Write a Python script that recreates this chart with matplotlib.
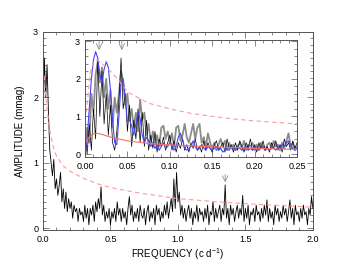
import numpy as np
import matplotlib
matplotlib.use("Agg")
import matplotlib.pyplot as plt
from matplotlib.ticker import MultipleLocator, FormatStrFormatter

plt.rcParams["font.family"] = ["Liberation Sans", "DejaVu Sans"]
plt.rcParams["mathtext.fontset"] = "custom"
plt.rcParams["mathtext.rm"] = "Liberation Sans"
plt.rcParams["mathtext.it"] = "Liberation Sans"

# main amplitude spectrum, 0.00 .. 2.00 c/d in steps of 0.01
main_freq_step = 0.01
main_amp = [
    1.5, 2.6, 2.0, 2.5, 1.8, 1.2, 1.0, 0.8, 1.05, 0.6,
    0.75, 0.5, 0.65, 0.85, 0.4, 0.6, 0.3, 0.55, 0.25, 0.45,
    0.3, 0.4, 0.15, 0.35, 0.25, 0.3, 0.1, 0.3, 0.2, 0.25,
    0.1, 0.35, 0.15, 0.3, 0.05, 0.3, 0.2, 0.35, 0.1, 0.4,
    0.25, 0.45, 0.3, 0.63, 0.2, 0.35, 0.1, 0.25, 0.15, 0.3,
    0.05, 0.25, 0.15, 0.3, 0.1, 0.4, 0.2, 0.3, 0.1, 0.3,
    0.15, 0.25, 0.05, 0.3, 0.48, 0.2, 0.35, 0.1, 0.25, 0.15,
    0.3, 0.1, 0.35, 0.2, 0.15, 0.3, 0.05, 0.25, 0.35, 0.1,
    0.25, 0.15, 0.3, 0.05, 0.35, 0.2, 0.3, 0.1, 0.25, 0.15,
    0.35, 0.2, 0.4, 0.15, 0.3, 0.45, 0.25, 0.75, 0.3, 0.85,
    0.4, 0.55, 0.2, 0.35, 0.15, 0.3, 0.1, 0.25, 0.35, 0.15,
    0.3, 0.05, 0.25, 0.15, 0.35, 0.1, 0.3, 0.2, 0.25, 0.1,
    0.3, 0.15, 0.35, 0.05, 0.25, 0.2, 0.4, 0.1, 0.3, 0.15,
    0.25, 0.35, 0.1, 0.3, 0.2, 0.66, 0.15, 0.3, 0.05, 0.35,
    0.2, 0.3, 0.1, 0.25, 0.35, 0.15, 0.3, 0.2, 0.5, 0.1,
    0.3, 0.15, 0.35, 0.05, 0.25, 0.2, 0.3, 0.1, 0.35, 0.2,
    0.25, 0.1, 0.3, 0.15, 0.35, 0.2, 0.43, 0.1, 0.3, 0.15,
    0.25, 0.05, 0.35, 0.2, 0.3, 0.1, 0.25, 0.15, 0.35, 0.2,
    0.3, 0.1, 0.25, 0.43, 0.15, 0.3, 0.05, 0.35, 0.2, 0.25,
    0.1, 0.3, 0.15, 0.35, 0.2, 0.25, 0.05, 0.3, 0.2, 0.48,
    0.3,
]

# significance level (dashed) over the full range
main_sig_freq = [0, 0.01, 0.025, 0.05, 0.075, 0.1, 0.15, 0.2, 0.3, 0.4, 0.5, 0.7, 1.0, 1.3, 1.6, 2.0]
main_sig_amp = [2.45, 2.3, 1.9, 1.5, 1.25, 1.1, 0.95, 0.87, 0.76, 0.68, 0.62, 0.54, 0.45, 0.4, 0.36, 0.32]

# inset spectra, 0.000 .. 0.250 c/d in steps of 0.0025
inset_freq_step = 0.0025
inset_gray = [
    0.05, 0.7, 0.3, 1.6, 1.1, 2.1, 2.45, 1.9, 2.3, 1.5,
    2.0, 1.2, 1.7, 0.7, 1.5, 1.1, 1.6, 2.2, 1.9, 1.3,
    1.6, 0.9, 1.2, 0.7, 1.1, 0.6, 1.45, 0.9, 1.1, 0.5,
    0.8, 0.3, 0.6, 0.25, 0.5, 0.2, 0.7, 0.75, 0.4, 0.6,
    0.3, 0.55, 0.2, 0.7, 0.75, 0.35, 0.5, 0.8, 0.45, 0.3,
    0.55, 0.8, 0.4, 0.7, 0.8, 0.3, 0.45, 0.2, 0.55, 0.3,
    0.15, 0.3, 0.1, 0.25, 0.4, 0.2, 0.35, 0.1, 0.3, 0.15,
    0.25, 0.1, 0.2, 0.3, 0.15, 0.35, 0.1, 0.25, 0.2, 0.3,
    0.1, 0.25, 0.15, 0.3, 0.2, 0.1, 0.25, 0.3, 0.15, 0.35,
    0.2, 0.25, 0.1, 0.3, 0.15, 0.35, 0.55, 0.2, 0.3, 0.1,
    0.2,
]
inset_black = [
    0.6, 0.0, 0.8, 0.1, 1.2, 0.4, 2.5, 1.0, 2.2, 0.8,
    1.6, 0.5, 1.3, 0.3, 0.1, 0.6, 1.4, 2.55, 1.2, 1.6,
    0.6, 1.3, 0.2, 0.9, 0.4, 1.2, 0.3, 1.1, 0.2, 0.9,
    0.1, 0.5, 0.15, 0.6, 0.05, 0.4, 0.2, 0.45, 0.1, 0.3,
    0.5, 0.1, 0.35, 0.05, 0.3, 0.15, 0.4, 0.1, 0.25, 0.05,
    0.3, 0.15, 0.4, 0.1, 0.2, 0.05, 0.35, 0.1, 0.3, 0.15,
    0.05, 0.25, 0.35, 0.1, 0.2, 0.3, 0.05, 0.4, 0.15, 0.25,
    0.05, 0.3, 0.1, 0.35, 0.2, 0.05, 0.3, 0.15, 0.4, 0.1,
    0.25, 0.05, 0.3, 0.15, 0.35, 0.1, 0.2, 0.05, 0.3, 0.15,
    0.35, 0.1, 0.25, 0.05, 0.4, 0.2, 0.3, 0.1, 0.35, 0.15,
    0.3,
]
inset_blue = [
    0.0, 0.4, 1.2, 2.0, 2.5, 2.72, 2.55, 2.1, 1.9, 2.25,
    2.45, 2.3, 1.7, 0.9, 0.3, 0.25, 1.0, 1.9, 2.0, 1.5,
    0.85, 0.9, 0.75, 0.5, 0.8, 1.1, 0.95, 0.5, 0.3, 0.45,
    0.35, 0.2, 0.3, 0.15, 0.25, 0.1, 0.2, 0.3, 0.15, 0.2,
    0.3, 0.25, 0.1, 0.2, 0.45, 0.55, 0.4, 0.15, 0.1, 0.15,
    0.2, 0.35, 0.2, 0.1, 0.15, 0.25, 0.15, 0.1, 0.2, 0.15,
    0.1, 0.15, 0.2, 0.1, 0.15, 0.05, 0.1, 0.15, 0.1, 0.2,
    0.15, 0.1, 0.2, 0.15, 0.1, 0.15, 0.2, 0.1, 0.15, 0.1,
    0.2, 0.15, 0.1, 0.15, 0.2, 0.1, 0.15, 0.1, 0.2, 0.15,
    0.1, 0.2, 0.15, 0.25, 0.2, 0.3, 0.35, 0.25, 0.15, 0.1,
    0.15,
]
inset_noise_freq = [0, 0.005, 0.01, 0.015, 0.02, 0.03, 0.05, 0.075, 0.1, 0.15, 0.2, 0.25]
inset_noise_amp = [0.3, 0.45, 0.53, 0.55, 0.52, 0.45, 0.35, 0.28, 0.24, 0.19, 0.15, 0.12]
inset_sig_freq = [0, 0.003, 0.006, 0.01, 0.014, 0.02, 0.03, 0.04, 0.05, 0.075, 0.1, 0.125, 0.15, 0.175, 0.2, 0.225, 0.25]
inset_sig_amp = [0.9, 1.4, 2.15, 2.45, 2.5, 2.4, 2.2, 1.95, 1.65, 1.35, 1.2, 1.08, 1.0, 0.93, 0.88, 0.84, 0.8]

main_arrows = [1.35]
inset_arrows = [0.0166, 0.0434]

FRAME = "#555555"
ARROW = "#909090"
RED = "#ff6a6a"
PINK = "#ff9a9a"


def style_axes(ax, xmaj, xmin, ymaj, ymin):
    ax.xaxis.set_major_locator(MultipleLocator(xmaj))
    ax.xaxis.set_minor_locator(MultipleLocator(xmin))
    ax.yaxis.set_major_locator(MultipleLocator(ymaj))
    ax.yaxis.set_minor_locator(MultipleLocator(ymin))
    ax.tick_params(which="both", direction="in", top=True, right=True,
                   colors=FRAME, labelcolor="black", labelsize=6.5, width=0.5)
    ax.tick_params(which="major", length=4)
    ax.tick_params(which="minor", length=2)
    for s in ax.spines.values():
        s.set_color(FRAME)
        s.set_linewidth(0.7)


fig = plt.figure(figsize=(3.56, 2.63), dpi=100)
ax = fig.add_axes([0.1208, 0.1255, 0.758, 0.753])

mf = np.arange(len(main_amp)) * main_freq_step
ax.plot(mf, main_amp, color="black", lw=0.6)
ax.plot(main_sig_freq, main_sig_amp, color=PINK, lw=0.8, ls=(0, (4, 3)))
for f in main_arrows:
    ax.annotate("", xy=(f, 0.70), xytext=(f, 0.82),
                arrowprops=dict(arrowstyle="->", color=ARROW, lw=0.6, shrinkA=0, shrinkB=0))
ax.set_xlim(0, 2.0)
ax.set_ylim(-0.03, 3.0)
ax.xaxis.set_major_formatter(FormatStrFormatter("%.1f"))
style_axes(ax, 0.5, 0.1, 1, 0.1)
ax.set_xlabel("FREQUENCY (c d$^{-1}$)", fontsize=7, labelpad=2)
ax.set_ylabel("AMPLITUDE (mmag)", fontsize=7, labelpad=6)

ins = fig.add_axes([0.2388, 0.403, 0.5955, 0.445])
inf = np.arange(len(inset_gray)) * inset_freq_step
ins.plot(inf, inset_gray, color="#8c8c8c", lw=1.3)
ins.plot(inf, inset_black, color="black", lw=0.5)
ins.plot(inf, inset_blue, color="#4444ff", lw=0.8)
ins.plot(inset_noise_freq, inset_noise_amp, color=RED, lw=0.8)
ins.plot(inset_sig_freq, inset_sig_amp, color=PINK, lw=0.8, ls=(0, (4, 3)))
for f in inset_arrows:
    ins.annotate("", xy=(f, 2.76), xytext=(f, 3.0),
                 arrowprops=dict(arrowstyle="->", color=ARROW, lw=0.6, shrinkA=0, shrinkB=0))
ins.set_xlim(0, 0.25)
ins.set_ylim(-0.08, 3.03)
ins.xaxis.set_major_formatter(FormatStrFormatter("%.2f"))
style_axes(ins, 0.05, 0.01, 1, 0.2)

fig.savefig("out.png", dpi=100)
